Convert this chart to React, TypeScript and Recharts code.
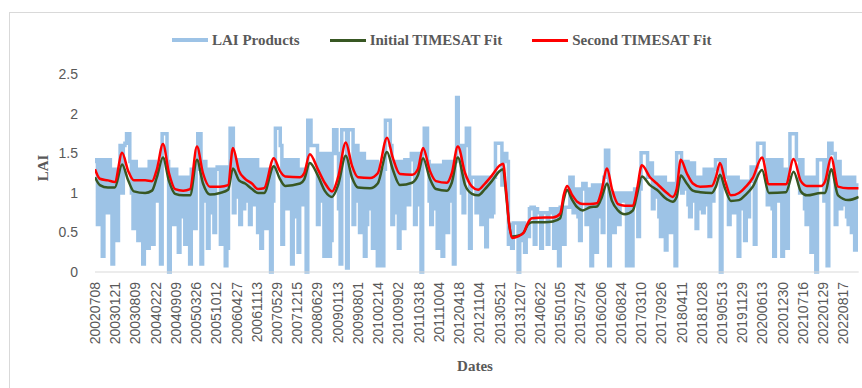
import React from 'react';
import { LineChart, Line, XAxis, YAxis } from 'recharts';

// 4-day LAI composites, one tick label every 50 composites
const DATE_LABELS = [
  '20020708', '20030121', '20030809', '20040222', '20040909', '20050326', '20051012', '20060427',
  '20061113', '20070529', '20071215', '20080629', '20090113', '20090801', '20100214', '20100902',
  '20110318', '20111004', '20120418', '20121104', '20130521', '20131207', '20140622', '20150105',
  '20150724', '20160206', '20160824', '20170310', '20170926', '20180411', '20181028', '20190513',
  '20191129', '20200613', '20201230', '20210716', '20220129', '20220817',
];
const LABEL_EVERY = 50;
const X_MAX = 1888;

// LAI product, every 4 composites
const LAI_STEP = 4;
const LAI_VALUES = [
  1.4, 1.42, 0.6, 1.42, 1.42, 0.2, 1.42, 0.9, 0.75, 1.42, 1.3, 0.1, 1.3, 0.8, 0.4, 1.3, 1.6, 1.0, 1.6, 1.63,
  1.75, 1.75, 1.4, 1.0, 0.55, 1.4, 1.3, 0.4, 0.9, 1.3, 0.1, 1.3, 1.3, 0.3, 1.4, 0.7, 0.35, 1.4, 1.3, 0.9,
  1.3, 0.1, 1.75, 1.75, 1.75, 1.4, 0.0, 1.3, 1.3, 0.6, 1.3, 0.8, 0.25, 1.2, 0.7, 1.2, 0.35, 1.2, 1.2, 0.1,
  1.3, 0.85, 0.55, 1.3, 1.75, 1.75, 0.1, 1.4, 1.4, 0.9, 0.3, 1.3, 0.75, 1.3, 0.5, 1.3,
  1.33, 1.33, 0.35, 1.33, 1.33, 0.08, 0.3, 1.33, 1.82, 1.82, 0.75, 1.42, 1.42, 0.95, 0.6, 1.42, 0.8, 1.42, 1.42, 0.9,
  0.6, 1.42, 1.42, 0.85, 1.42, 0.5, 1.3, 0.3, 1.3, 0.7, 0.55, 1.3, 1.3, 0.0, 0.9, 1.3, 1.82, 1.82, 1.82, 1.6,
  0.35, 1.42, 1.42, 0.8, 1.42, 1.0, 0.1, 1.42, 0.7, 1.42, 0.25, 1.3, 1.3, 0.85, 1.3, 0.0, 1.92, 1.92, 1.6, 1.6,
  1.6, 1.6, 0.6, 1.5, 1.5, 0.9, 0.2, 1.5, 1.5, 0.2, 0.4, 1.5, 1.8, 1.8, 1.5, 0.8,
  0.1, 1.8, 1.8, 1.8,
  0.05, 1.8, 1.8, 1.8, 0.6, 1.6, 1.6, 0.9, 0.5, 1.5, 1.5, 0.2, 0.6, 1.4, 1.4, 0.8, 0.3, 1.4, 1.4, 0.08,
  1.3, 0.9, 0.08, 1.3, 1.92, 1.92, 1.92, 1.6, 0.6, 1.4, 1.4, 0.75, 0.3, 1.4, 1.4, 0.55, 1.42, 1.0, 0.85, 1.42,
  1.5, 1.5, 0.6, 1.5, 1.5, 0.85, 0.0, 1.5, 1.82, 1.82, 1.4, 0.9, 0.6, 1.35, 0.8, 1.35, 0.3, 1.35, 1.35, 0.2,
  1.4, 0.85, 0.5, 1.4, 1.4, 0.9, 0.1, 1.4, 2.21, 1.6, 1.6, 1.0, 0.75, 1.6, 1.82, 1.82, 0.3, 1.2,
  1.2, 1.2, 0.75, 1.2, 1.2, 0.6, 0.85, 1.2, 0.32, 1.2, 1.2, 0.7, 0.75, 1.2, 1.63, 1.63, 1.63, 1.63, 1.1, 1.5,
  1.5, 1.4, 0.35, 0.6, 0.3, 0.62, 0.62, 0.62, 0.0, 0.62, 0.4, 0.62, 0.25, 0.55, 0.45, 0.8, 0.82, 0.82, 0.35, 0.8,
  0.75, 0.75, 0.3, 0.75, 0.75, 0.75, 0.35, 0.75, 0.8, 0.8, 0.3, 0.8, 0.8, 0.08, 0.82, 0.82, 0.35, 0.82, 0.82, 0.82,
  1.2, 1.2, 0.75, 1.0, 1.05, 0.7, 0.4, 1.05, 1.12, 1.12, 0.6, 1.05, 1.05, 0.08, 1.1, 0.8, 0.25, 1.1, 0.7, 1.1,
  0.5, 1.2,
  1.54, 1.54, 0.08, 1.0, 1.0, 0.5, 0.82, 1.0, 0.6, 1.0, 0.9, 0.9, 1.0, 0.08, 1.0, 0.7, 0.08, 1.0, 1.05, 1.05,
  0.45, 1.05, 1.51, 1.51, 1.51, 1.51, 1.2, 1.38, 1.38, 0.8, 0.95, 1.2, 1.2, 0.7, 0.45, 1.2, 1.2, 0.28, 1.12, 0.6,
  0.5, 1.12, 1.12, 0.08, 1.51, 1.51, 1.51, 1.0, 1.05, 1.4, 1.4, 0.85, 0.7, 1.38, 1.38, 0.9, 0.55, 1.2, 0.8, 1.2,
  0.75, 1.3, 1.3, 0.85, 0.45, 1.3, 0.9, 1.3, 1.42, 1.42, 1.42, 0.0, 1.42, 1.42,
  1.2, 1.2, 0.6, 1.2, 1.2, 0.75, 0.9, 1.2, 0.2, 1.15, 1.15, 0.8, 0.4, 1.15, 0.7, 1.15, 1.33, 1.33, 0.35, 1.33,
  1.63, 1.63, 1.63, 1.63, 1.42, 1.42, 0.85, 1.42, 1.42, 0.8, 0.2, 1.42, 0.9, 1.42, 1.42, 0.2, 1.3, 1.3, 0.3, 1.3,
  1.75, 1.75, 1.75, 1.75, 1.42, 1.42, 1.0, 1.42, 1.2, 0.8, 0.6, 1.2, 1.2, 0.25, 0.75, 1.2, 0.0, 1.42, 1.42, 1.42,
  1.42, 0.9, 1.42, 0.08, 1.63, 1.63, 1.5, 1.5, 0.6, 1.4, 1.4, 0.8, 0.85, 1.2, 1.2, 0.7, 0.6, 1.2, 0.5, 1.2,
  0.28, 1.1, 1.1,
];

// TIMESAT fits, read at the turning points of the curves
const FIT_INDEX = [
  0, 12, 32, 49, 67, 82, 96, 124, 141, 153, 168, 183, 198, 218, 235, 252, 267, 284, 309, 329,
  341, 356, 371, 388, 403, 418, 442, 457, 470, 507, 517, 531, 551, 569, 586, 601, 620, 635, 650, 680,
  699, 722, 736, 754, 784, 798, 811, 828, 843, 870, 882, 897, 915, 932, 947, 964, 981, 1001, 1009, 1016,
  1024, 1031, 1046, 1060, 1070, 1080, 1112, 1132, 1150, 1159, 1167, 1179, 1192, 1206, 1224, 1241, 1251, 1266, 1278, 1293,
  1310, 1330, 1340, 1352, 1372, 1389, 1414, 1428, 1438, 1448, 1463, 1478, 1496, 1525, 1535, 1545, 1558, 1572, 1592, 1609,
  1626, 1649, 1666, 1708, 1727, 1745, 1760, 1795, 1805, 1820, 1837, 1862, 1888,
];
const INITIAL_FIT = [
  1.20, 1.10, 1.07, 1.07, 1.36, 1.16, 1.02, 1.00, 1.03, 1.20, 1.45, 1.15, 0.99, 0.97, 0.97, 1.42, 1.12, 0.98, 1.00, 1.04,
  1.31, 1.16, 1.12, 1.05, 1.00, 1.00, 1.34, 1.18, 1.09, 1.12, 1.17, 1.38, 1.22, 1.02, 0.95, 1.10, 1.47, 1.20, 1.07, 1.06,
  1.12, 1.52, 1.30, 1.10, 1.13, 1.22, 1.44, 1.18, 1.05, 1.03, 1.13, 1.45, 1.10, 0.99, 0.97, 1.05, 1.15, 1.28, 1.30, 1.00,
  0.60, 0.45, 0.46, 0.50, 0.60, 0.63, 0.63, 0.64, 0.68, 0.92, 1.04, 0.92, 0.82, 0.78, 0.82, 0.83, 0.92, 1.12, 0.90, 0.78,
  0.73, 0.78, 0.98, 1.21, 1.10, 1.04, 0.92, 0.89, 0.95, 1.22, 1.12, 1.03, 1.01, 1.00, 1.08, 1.23, 1.05, 0.90, 0.91, 0.98,
  1.08, 1.29, 1.00, 1.01, 1.27, 1.02, 0.97, 1.00, 1.00, 1.30, 0.97, 0.91, 0.95,
];
const SECOND_FIT = [
  1.30, 1.18, 1.16, 1.14, 1.51, 1.28, 1.16, 1.16, 1.15, 1.30, 1.62, 1.25, 1.05, 1.03, 1.05, 1.59, 1.25, 1.08, 1.08, 1.10,
  1.57, 1.28, 1.18, 1.12, 1.05, 1.06, 1.44, 1.28, 1.21, 1.20, 1.25, 1.49, 1.30, 1.12, 1.02, 1.20, 1.64, 1.35, 1.20, 1.19,
  1.25, 1.70, 1.45, 1.24, 1.23, 1.30, 1.57, 1.28, 1.15, 1.13, 1.25, 1.59, 1.25, 1.08, 1.04, 1.12, 1.22, 1.35, 1.37, 1.05,
  0.60, 0.43, 0.45, 0.50, 0.62, 0.68, 0.69, 0.69, 0.74, 0.98, 1.09, 0.98, 0.89, 0.86, 0.86, 0.87, 1.00, 1.31, 1.05, 0.86,
  0.84, 0.84, 1.05, 1.35, 1.20, 1.12, 1.00, 0.95, 1.05, 1.42, 1.25, 1.12, 1.08, 1.09, 1.20, 1.38, 1.15, 0.97, 1.00, 1.08,
  1.19, 1.45, 1.11, 1.11, 1.43, 1.15, 1.09, 1.09, 1.15, 1.45, 1.08, 1.06, 1.06,
];

const Y_TICKS = [0, 0.5, 1, 1.5, 2, 2.5];

const laiData = LAI_VALUES.map((v, k) => ({ i: k * LAI_STEP, v }));
const initialData = FIT_INDEX.map((i, k) => ({ i, v: INITIAL_FIT[k] }));
const secondData = FIT_INDEX.map((i, k) => ({ i, v: SECOND_FIT[k] }));
const xTicks = DATE_LABELS.map((_, j) => j * LABEL_EVERY);

const GREY = '#595959';
const SERIF = '"Liberation Serif", "Times New Roman", serif';
const SANS = '"Liberation Sans", Arial, sans-serif';

const SERIES = [
  { name: 'LAI Products', color: '#9DC3E6', width: 4 },
  { name: 'Initial TIMESAT Fit', color: '#385723', width: 3 },
  { name: 'Second TIMESAT Fit', color: '#FF0000', width: 3 },
];

function DateTick({ x, y, payload }: any) {
  const label = DATE_LABELS[Math.round(payload.value / LABEL_EVERY)];
  return (
    <text
      x={x}
      y={y}
      transform={`rotate(-90 ${x} ${y})`}
      textAnchor="end"
      dominantBaseline="central"
      fill={GREY}
      fontSize={14}
      fontFamily={SANS}
    >
      {label}
    </text>
  );
}

export default function App() {
  return (
    <div style={{ position: 'absolute', left: 0, top: 0, width: 862, height: 388, overflow: 'hidden', background: '#fff' }}>
      {/* chart frame */}
      <div style={{ position: 'absolute', left: 9, top: 12, width: 880, height: 400, border: '1px solid #D9D9D9' }} />

      {/* legend */}
      <div style={{ position: 'absolute', left: 172, top: 30, display: 'flex', alignItems: 'center', gap: 30 }}>
        {SERIES.map((s) => (
          <div key={s.name} style={{ display: 'flex', alignItems: 'center', gap: 4 }}>
            <div style={{ width: 36, height: s.width, background: s.color }} />
            <span style={{ fontFamily: SERIF, fontWeight: 'bold', fontSize: 15, color: GREY, lineHeight: '20px' }}>{s.name}</span>
          </div>
        ))}
      </div>

      <LineChart width={862} height={388} margin={{ top: 74.5, right: 3.3, bottom: 0, left: 0 }}>
        <XAxis
          dataKey="i"
          type="number"
          domain={[0, X_MAX]}
          ticks={xTicks}
          interval={0}
          height={116}
          tick={<DateTick />}
          tickLine={false}
          tickSize={0}
          tickMargin={10}
          axisLine={{ stroke: '#D9D9D9', strokeWidth: 1 }}
          allowDataOverflow
        />
        <YAxis
          type="number"
          domain={[0, 2.5]}
          ticks={Y_TICKS}
          width={95}
          axisLine={false}
          tickLine={false}
          tickSize={6}
          tickMargin={11}
          tick={{ fill: GREY, fontSize: 14, fontFamily: SANS }}
        />
        <Line
          data={laiData}
          dataKey="v"
          name="LAI Products"
          type="step"
          stroke="#9DC3E6"
          strokeWidth={3.5}
          dot={false}
          isAnimationActive={false}
        />
        <Line
          data={initialData}
          dataKey="v"
          name="Initial TIMESAT Fit"
          type="monotone"
          stroke="#385723"
          strokeWidth={2.5}
          dot={false}
          isAnimationActive={false}
        />
        <Line
          data={secondData}
          dataKey="v"
          name="Second TIMESAT Fit"
          type="monotone"
          stroke="#FF0000"
          strokeWidth={2.5}
          dot={false}
          isAnimationActive={false}
        />
      </LineChart>

      {/* axis titles */}
      <div
        style={{
          position: 'absolute', left: 43, top: 168, transform: 'translate(-50%, -50%) rotate(-90deg)',
          fontFamily: SERIF, fontWeight: 'bold', fontSize: 15, color: GREY, whiteSpace: 'nowrap',
        }}
      >
        LAI
      </div>
      <div
        style={{
          position: 'absolute', left: 475, top: 366, transform: 'translate(-50%, -50%)',
          fontFamily: SERIF, fontWeight: 'bold', fontSize: 15, color: GREY, whiteSpace: 'nowrap',
        }}
      >
        Dates
      </div>
    </div>
  );
}
